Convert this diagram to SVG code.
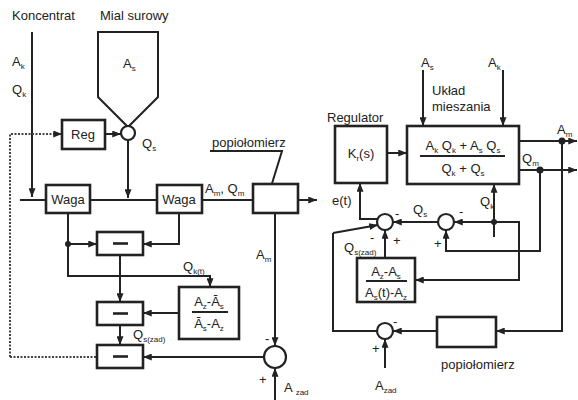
<svg xmlns="http://www.w3.org/2000/svg" width="578" height="400" viewBox="0 0 578 400">
<defs>
<marker id="a" viewBox="0 0 10 8" refX="10" refY="4" markerWidth="9" markerHeight="7" orient="auto" markerUnits="userSpaceOnUse"><path d="M0,0 L10,4 L0,8 Z" fill="#222"/></marker>
</defs>
<style>
.l{stroke:#222;stroke-width:2;fill:none}
.ar{marker-end:url(#a)}
.d{stroke:#444;stroke-width:2;fill:none;stroke-dasharray:2 1.5}
.b{fill:#fff;stroke:#222;stroke-width:2.6}
.c{fill:#fff;stroke:#222;stroke-width:2.2}
.m{stroke:#222;stroke-width:2.6}
.dot{fill:#222}
text{font-family:"Liberation Sans",Arial,sans-serif;font-size:13px;fill:#222}
.s{font-size:8px}
.mid{text-anchor:middle}
</style>
<rect width="578" height="400" fill="#fff"/>

<g id="connectors">
<!-- left -->
<path class="l ar" d="M32,32 V197"/>
<path class="l" d="M20,200 H46 M90,200 H157 M202,200 H253"/>
<path class="l ar" d="M128,140 V198"/>
<path class="l ar" d="M105,134 H121"/>
<path class="d ar" d="M10,357 V134 H62"/>
<path class="d" d="M10,357 H97"/>
<path class="l ar" d="M298,200 H317"/>
<path class="l" stroke-width="1.5" d="M210,151 H282 L270,190"/>
<path class="l ar" d="M68,213 V276 H210 V287"/>
<path class="l ar" d="M68,244 H97"/>
<circle class="dot" cx="68" cy="244" r="3"/>
<path class="l ar" d="M179,213 V244 H143"/>
<path class="l ar" d="M120,255 V302"/>
<path class="l ar" d="M120,325 V345"/>
<path class="l ar" d="M179,313 H143"/>
<path class="l ar" d="M264,357 H143"/>
<path class="l ar" d="M275,213 V346"/>
<path class="l ar" d="M275,400 V368"/>
<!-- right -->
<path class="l ar" d="M423,70 V126"/>
<path class="l ar" d="M503,70 V126"/>
<path class="l ar" d="M387,153 H407"/>
<path class="l ar" d="M519,141 H577"/>
<path class="l ar" d="M519,170 H577"/>
<circle class="dot" cx="562" cy="141" r="3.5"/>
<circle class="dot" cx="540" cy="170" r="3.5"/>
<path class="l ar" d="M540,170 V251 H446 V230"/>
<path class="l ar" d="M494,237 V184"/>
<circle class="dot" cx="494" cy="222" r="3"/>
<path class="l ar" d="M494,222 H454"/>
<path class="l ar" d="M494,222 H519 V280 H415"/>
<path class="l ar" d="M438,222 H393"/>
<path class="l ar" d="M378,219 H360 V183"/>
<path class="l ar" d="M333,233 L378,225"/>
<path class="l ar" d="M385,258 V230"/>
<path class="l ar" d="M562,141 V331 H496"/>
<path class="l ar" d="M437,331 H393"/>
<path class="l" d="M377,331 H333 V233"/>
<path class="l ar" d="M385,368 V339"/>
</g>

<g id="hopper">
<path class="l" stroke-width="2.6" d="M98,32 H158 V97 L128,127 L98,97 Z"/>
<text x="123" y="68">A<tspan class="s" dy="3">s</tspan></text>
</g>
<g id="sumQs"><circle class="c" cx="128" cy="133" r="7"/></g>
<g id="reg"><rect class="b" x="62" y="120" width="43" height="29"/><text class="mid" x="83" y="139">Reg</text></g>
<g id="waga1"><rect class="b" x="46" y="185" width="44" height="28"/><text class="mid" x="68" y="204">Waga</text></g>
<g id="waga2"><rect class="b" x="157" y="185" width="45" height="28"/><text class="mid" x="179" y="204">Waga</text></g>
<g id="popiol1"><rect class="b" x="253" y="184" width="45" height="29"/></g>
<g id="minus1"><rect class="b" x="97" y="232" width="46" height="23"/><path class="m" d="M113,243.5 H128"/></g>
<g id="minus2"><rect class="b" x="97" y="302" width="46" height="23"/><path class="m" d="M113,313.5 H128"/></g>
<g id="minus3"><rect class="b" x="97" y="345" width="46" height="23"/><path class="m" d="M113,356.5 H128"/></g>
<g id="frac1">
<rect class="b" x="179" y="287" width="60" height="52"/>
<text class="mid" x="209" y="306">A<tspan class="s" dy="3">z</tspan><tspan dy="-3">-Ā</tspan><tspan class="s" dy="3">s</tspan></text>
<path class="l" d="M192,312 H228"/>
<text class="mid" x="209" y="328">Ā<tspan class="s" dy="3">s</tspan><tspan dy="-3">-A</tspan><tspan class="s" dy="3">z</tspan></text>
</g>
<g id="sum1"><circle class="c" cx="275" cy="357" r="11"/></g>

<g id="regulator"><rect class="b" x="335" y="126" width="52" height="57"/><text class="mid" x="361" y="158">K<tspan class="s" dy="3">r</tspan><tspan dy="-3">(s)</tspan></text></g>
<g id="mixer">
<rect class="b" x="407" y="126" width="112" height="58"/>
<text class="mid" x="463" y="150">A<tspan class="s" dy="3">k</tspan><tspan dy="-3"> Q</tspan><tspan class="s" dy="3">k</tspan><tspan dy="-3"> + A</tspan><tspan class="s" dy="3">s</tspan><tspan dy="-3"> Q</tspan><tspan class="s" dy="3">s</tspan></text>
<path class="l" d="M420,156 H505"/>
<text class="mid" x="463" y="173">Q<tspan class="s" dy="3">k</tspan><tspan dy="-3"> + Q</tspan><tspan class="s" dy="3">s</tspan></text>
</g>
<g id="sumA"><circle class="c" cx="385" cy="222" r="8"/></g>
<g id="sumB"><circle class="c" cx="446" cy="222" r="8"/></g>
<g id="frac2">
<rect class="b" x="357" y="258" width="58" height="44"/>
<text class="mid" x="386" y="276">A<tspan class="s" dy="3">z</tspan><tspan dy="-3">-A</tspan><tspan class="s" dy="3">s</tspan></text>
<path class="l" d="M366,281 H407"/>
<text class="mid" x="386" y="297">A<tspan class="s" dy="3">s</tspan><tspan dy="-3">(t)-A</tspan><tspan class="s" dy="3">z</tspan></text>
</g>
<g id="sumC"><circle class="c" cx="385" cy="331" r="8"/></g>
<g id="popiol2"><rect class="b" x="437" y="317" width="59" height="30"/></g>

<g id="labels">
<text x="12" y="20">Koncentrat</text>
<text x="100" y="20">Mial surowy</text>
<text x="12" y="66">A<tspan class="s" dy="3">k</tspan></text>
<text x="12" y="94">Q<tspan class="s" dy="3">k</tspan></text>
<text x="142" y="148">Q<tspan class="s" dy="3">s</tspan></text>
<text x="205" y="193">A<tspan class="s" dy="3">m</tspan><tspan dy="-3">, Q</tspan><tspan class="s" dy="3">m</tspan></text>
<text x="212" y="147">popiołomierz</text>
<text x="183" y="271">Q<tspan class="s" dy="3">k(t)</tspan></text>
<text x="256" y="259">A<tspan class="s" dy="3">m</tspan></text>
<text x="133" y="339">Q<tspan class="s" dy="3">s(zad)</tspan></text>
<text x="265" y="343">-</text>
<text x="259" y="384">+</text>
<text x="284" y="392">A<tspan class="s" dx="3" dy="3">zad</tspan></text>

<text x="421" y="67">A<tspan class="s" dy="3">s</tspan></text>
<text x="488" y="67">A<tspan class="s" dy="3">k</tspan></text>
<text x="432" y="95">Układ</text>
<text x="432" y="111">mieszania</text>
<text x="327" y="122">Regulator</text>
<text x="557" y="134">A<tspan class="s" dy="3">m</tspan></text>
<text x="522" y="163">Q<tspan class="s" dy="3">m</tspan></text>
<text x="332" y="205">e(t)</text>
<text x="413" y="214">Q<tspan class="s" dy="3">s</tspan></text>
<text x="480" y="206">Q<tspan class="s" dy="3">k</tspan></text>
<text x="395" y="218">-</text>
<text x="459" y="216">-</text>
<text x="370" y="242">-</text>
<text x="393" y="245">+</text>
<text x="434" y="248">+</text>
<text x="344" y="252">Q<tspan class="s" dy="3">s(zad)</tspan></text>
<text x="393" y="326">-</text>
<text x="372" y="353">+</text>
<text x="375" y="390">A<tspan class="s" dy="3">zad</tspan></text>
<text x="441" y="369">popiołomierz</text>
</g>
</svg>
